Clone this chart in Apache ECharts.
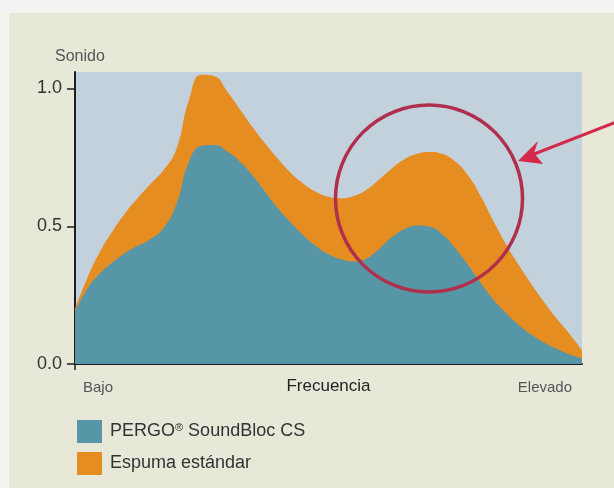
<!DOCTYPE html>
<html>
<head>
<meta charset="utf-8">
<script src="https://cdn.jsdelivr.net/npm/echarts@6/dist/echarts.min.js"></script>
<style>
html,body{margin:0;padding:0;background:#f3f3f1;}
#c{width:614px;height:488px;}
</style>
</head>
<body>
<div id="c"></div>
<script>
// Frequency positions (0 = Bajo, 100 = Elevado)
const freq = [0, 2.5, 5, 7.5, 10, 12.5, 15, 17.5, 20, 22.5, 25, 27.5, 30, 32.5, 35, 37.5, 40, 42.5, 45, 47.5, 50, 52.5, 55, 57.5, 60, 62.5, 65, 67.5, 70, 72.5, 75, 77.5, 80, 82.5, 85, 87.5, 90, 92.5, 95, 97.5, 100];
// Espuma estándar (top, orange)
const espuma = [0.20, 0.315, 0.41, 0.485, 0.55, 0.605, 0.655, 0.705, 0.78, 0.96, 1.05, 1.045, 0.99, 0.925, 0.86, 0.80, 0.745, 0.695, 0.655, 0.625, 0.607, 0.602, 0.61, 0.633, 0.67, 0.71, 0.743, 0.763, 0.77, 0.762, 0.735, 0.685, 0.61, 0.52, 0.435, 0.36, 0.29, 0.225, 0.165, 0.11, 0.05];
// PERGO SoundBloc CS (bottom, teal)
const pergo = [0.19, 0.275, 0.33, 0.37, 0.405, 0.43, 0.455, 0.495, 0.58, 0.735, 0.792, 0.795, 0.772, 0.735, 0.685, 0.625, 0.565, 0.515, 0.468, 0.428, 0.398, 0.38, 0.372, 0.383, 0.418, 0.46, 0.49, 0.503, 0.498, 0.47, 0.42, 0.36, 0.295, 0.235, 0.185, 0.142, 0.107, 0.078, 0.055, 0.035, 0.02];
const xTickValues = [0, 100];
const xTickLabels = ['Bajo', 'Elevado'];
const yTickValues = [0, 0.5, 1.0];
const seriesNames = ['PERGO® SoundBloc CS', 'Espuma estándar'];
const xAxisTitle = 'Frecuencia';
const yAxisTitle = 'Sonido';

const zip = (xs, ys) => xs.map((x, i) => [x, ys[i]]);
const FONT = '"Liberation Sans", Arial, Helvetica, sans-serif';

const chart = echarts.init(document.getElementById('c'), null, {renderer: 'canvas'});
chart.setOption({
  animation: false,
  backgroundColor: '#f3f3f1',
  textStyle: {fontFamily: FONT},
  graphic: [
    {type: 'rect', z: -10, silent: true, shape: {x: 9, y: 13, width: 605, height: 475}, style: {fill: '#e8e8d9'}},
    {type: 'text', left: 55, top: 49, style: {text: yAxisTitle, font: '16px ' + FONT, fill: '#555'}},
    {type: 'circle', z: 100, silent: true, shape: {cx: 429, cy: 198.5, r: 93.5},
      style: {fill: 'none', stroke: '#b02f4c', lineWidth: 3.5}},
    {type: 'polyline', z: 100, silent: true, shape: {points: [[616, 122], [524, 158]]},
      style: {stroke: '#d3294a', lineWidth: 3}},
    {type: 'polygon', z: 100, silent: true, shape: {points: [[518, 161], [538, 141], [534, 153], [543, 164]]},
      style: {fill: '#d3294a'}}
  ],
  grid: {left: 75, right: 32, top: 72, bottom: 124, show: true, backgroundColor: '#c3d1dc', borderWidth: 0},
  legend: {
    orient: 'vertical', left: 77, top: 420, padding: 0, itemWidth: 25, itemHeight: 23, itemGap: 9,
    icon: 'rect', data: seriesNames,
    textStyle: {fontSize: 18, color: '#333', fontFamily: FONT, padding: [0, 0, 0, 3],
      rich: {sup: {fontSize: 11, verticalAlign: 'top', color: '#333', padding: [0, 0, 8, 0]}}},
    formatter: n => n.replace('®', '{sup|®}')
  },
  xAxis: {
    type: 'value', min: 0, max: 100,
    name: xAxisTitle, nameLocation: 'middle', nameGap: 14, nameMoveOverlap: false,
    nameTextStyle: {fontSize: 17, color: '#222', fontFamily: FONT, verticalAlign: 'top'},
    axisLine: {show: true, onZero: false, lineStyle: {color: '#1c1c22', width: 2}},
    axisTick: {show: true, customValues: [0], length: 6, lineStyle: {color: '#1c1c22', width: 1.5}},
    splitLine: {show: false},
    axisLabel: {
      customValues: xTickValues, margin: 16, fontSize: 15, color: '#555', fontFamily: FONT,
      alignMinLabel: 'left', alignMaxLabel: 'right', padding: [0, 10, 0, 8],
      formatter: v => xTickLabels[xTickValues.indexOf(v)] || ''
    }
  },
  yAxis: {
    type: 'value', min: 0, max: 1.06,
    axisLine: {show: true, lineStyle: {color: '#1c1c22', width: 2}},
    axisTick: {show: true, customValues: yTickValues, length: 8, lineStyle: {color: '#1c1c22', width: 1.5}},
    splitLine: {show: false},
    axisLabel: {customValues: yTickValues, margin: 13, fontSize: 18, color: '#333', fontFamily: FONT,
      formatter: v => v.toFixed(1)}
  },
  series: [
    {name: seriesNames[1], type: 'line', smooth: 0.5, symbol: 'none', z: 2,
      data: zip(freq, espuma), lineStyle: {width: 0}, itemStyle: {color: '#e68d21'},
      areaStyle: {color: '#e68d21', opacity: 1}},
    {name: seriesNames[0], type: 'line', smooth: 0.5, symbol: 'none', z: 3,
      data: zip(freq, pergo), lineStyle: {width: 0}, itemStyle: {color: '#5696a6'},
      areaStyle: {color: '#5696a6', opacity: 1}}
  ]
});
</script>
</body>
</html>
